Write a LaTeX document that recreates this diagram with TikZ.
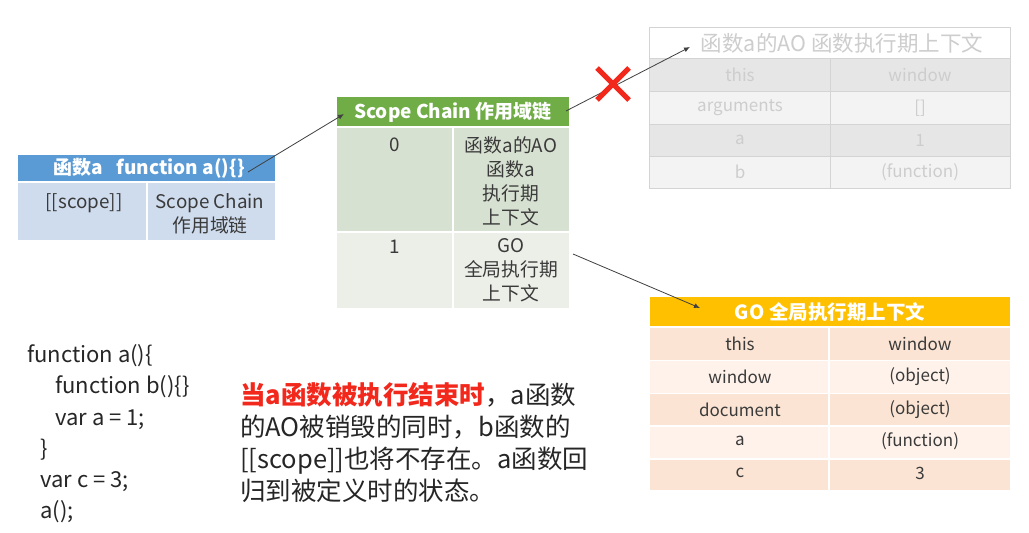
\documentclass[tikz,border=0pt]{standalone}
\usepackage{fontspec}
\setmainfont{Noto Sans CJK SC}
\usetikzlibrary{arrows.meta,calc}

\definecolor{bluehead}{HTML}{5B9BD5}
\definecolor{bluebody}{HTML}{CFDCEE}
\definecolor{greenhead}{HTML}{70AD47}
\definecolor{greenrowA}{HTML}{D7E1D1}
\definecolor{greenrowB}{HTML}{EBEFE8}
\definecolor{gohead}{HTML}{FFC000}
\definecolor{gorowA}{HTML}{FBE4D3}
\definecolor{gorowB}{HTML}{FEF2EA}
\definecolor{fadeA}{HTML}{E6E6E6}
\definecolor{fadeB}{HTML}{F3F3F3}
\definecolor{fadeline}{HTML}{D4D4D4}
\definecolor{fadetext}{HTML}{CDCDCD}
\definecolor{bodytext}{HTML}{3A3A3A}
\definecolor{alert}{HTML}{F2281C}

\begin{document}
\begin{tikzpicture}[x=1pt,y=-1pt,
  hdr/.style={inner sep=0pt, text=white, font=\fontsize{19}{22}\selectfont\bfseries},
  cell/.style={inner sep=0pt, text=bodytext, align=center, font=\fontsize{17}{24}\selectfont},
  cjkcell/.style={inner sep=0pt, text=bodytext, align=center, font=\fontsize{18.8}{24}\selectfont},
  fcell/.style={inner sep=0pt, text=fadetext, align=center, font=\fontsize{17}{24}\selectfont},
  code/.style={inner sep=0pt, anchor=base west, text=black!85, font=\fontsize{22}{28}\selectfont},
  expl/.style={inner sep=0pt, anchor=base west, text=black!85, font=\fontsize{25.5}{32}\selectfont},
  conn/.style={draw=black!75, line width=0.8pt, -{Latex[length=6pt,width=5pt]}}]
\useasboundingbox[fill=white] (0,0) rectangle (1029,533);

% ---- function a object ----
\fill[bluehead] (18,155) rectangle (275,181);
\fill[bluebody] (18,183) rectangle (146,240);
\fill[bluebody] (148,183) rectangle (275,240);
\node[hdr] (ahead) at (149,168) {函数a\hspace{14pt}function a()\{\}};
\node[cjkcell] (ascope) at (84,203) {[[scope]]};
\node[cjkcell] (achain) at (210,214) {Scope Chain\\作用域链};

% ---- scope chain ----
\fill[greenhead] (337,97) rectangle (569,126);
\fill[greenrowA] (337,128) rectangle (452,231);
\fill[greenrowA] (454,128) rectangle (569,231);
\fill[greenrowB] (337,233) rectangle (452,308);
\fill[greenrowB] (454,233) rectangle (569,308);
\node[hdr] (shead) at (453,112) {Scope Chain 作用域链};
\node[cjkcell] (s0) at (395,145) {0};
\node[cjkcell, anchor=north] (s0v) at (511,136) {函数a的AO\\函数a\\执行期\\上下文};
\node[cjkcell] (s1) at (395,247) {1};
\node[cjkcell, anchor=north] (s1v) at (511,238) {GO\\全局执行期\\上下文};

% ---- activation object of a (destroyed) ----
\fill[white] (649,27) rectangle (1010,58);
\fill[fadeA] (649,58) rectangle (1010,91);
\fill[fadeB] (649,91) rectangle (1010,124);
\fill[fadeA] (649,124) rectangle (1010,156);
\fill[fadeB] (649,156) rectangle (1010,188);
\draw[fadeline, line width=1pt] (649,27) rectangle (1010,188);
\foreach \yy in {58,91,124,156} \draw[fadeline, line width=1pt] (649,\yy) -- (1010,\yy);
\draw[fadeline, line width=1pt] (830,58) -- (830,188);
\node[fcell, font=\fontsize{21.5}{24}\selectfont] (aohead) at (842,43) {函数a的AO 函数执行期上下文};
\node[fcell] (ao1k) at (740,75) {this};
\node[fcell] (ao1v) at (920,75) {window};
\node[fcell] (ao2k) at (740,108) {arguments};
\node[fcell] (ao2v) at (920,108) {[]};
\node[fcell] (ao3k) at (740,140) {a};
\node[fcell] (ao3v) at (920,140) {1};
\node[fcell] (ao4k) at (740,172) {b};
\node[fcell] (ao4v) at (920,172) {(function)};

% ---- global object ----
\fill[gohead] (650,297) rectangle (1010,326);
\foreach \ya/\yb/\cc in {328/360/gorowA, 361/393/gorowB, 394/425/gorowA, 427/458/gorowB, 460/490/gorowA}{
  \fill[\cc] (650,\ya) rectangle (828,\yb);
  \fill[\cc] (830,\ya) rectangle (1010,\yb);
}
\node[hdr, font=\fontsize{19.5}{22}\selectfont\bfseries] (gohd) at (830,312) {GO 全局执行期上下文};
\node[cell] (go1k) at (740,344) {this};
\node[cell] (go1v) at (920,344) {window};
\node[cell] (go2k) at (740,377) {window};
\node[cell] (go2v) at (920,377) {(object)};
\node[cell] (go3k) at (740,410) {document};
\node[cell] (go3v) at (920,410) {(object)};
\node[cell] (go4k) at (740,441) {a};
\node[cell] (go4v) at (920,441) {(function)};
\node[cell] (go5k) at (740,473) {c};
\node[cell] (go5v) at (920,473) {3};

% ---- connectors ----
\coordinate (aend) at (248,172);
\coordinate (sin) at (344,114);
\coordinate (sout) at (566,111);
\coordinate (aoin) at (690,47);
\coordinate (gout) at (573,254);
\coordinate (goin) at (700,308);
\draw[conn] (aend) -- (sin);
\draw[conn] (sout) -- (aoin);
\draw[conn] (gout) -- (goin);

% ---- cross on the broken link ----
\coordinate (xc) at (613,84);
\draw[alert, line width=5pt] ($(xc)+(-16,-16)$) -- ($(xc)+(16,16)$);
\draw[alert, line width=5pt] ($(xc)+(16,-16)$) -- ($(xc)+(-16,16)$);

% ---- source code ----
\node[code] (c1) at (27,362) {function a()\{};
\node[code] (c2) at (55,393) {function b()\{\}};
\node[code] (c3) at (55,425) {var a = 1;};
\node[code] (c4) at (40,456) {\}};
\node[code] (c5) at (40,487) {var c = 3;};
\node[code] (c6) at (40,518) {a();};

% ---- explanation ----
\node[expl] (e1) at (240,404) {\textcolor{alert}{\bfseries 当a函数被执行结束时}，a函数};
\node[expl] (e2) at (240,436) {的AO被销毁的同时，b函数的};
\node[expl] (e3) at (240,468) {[[scope]]也将不存在。a函数回};
\node[expl] (e4) at (240,500) {归到被定义时的状态。};
\end{tikzpicture}
\end{document}
